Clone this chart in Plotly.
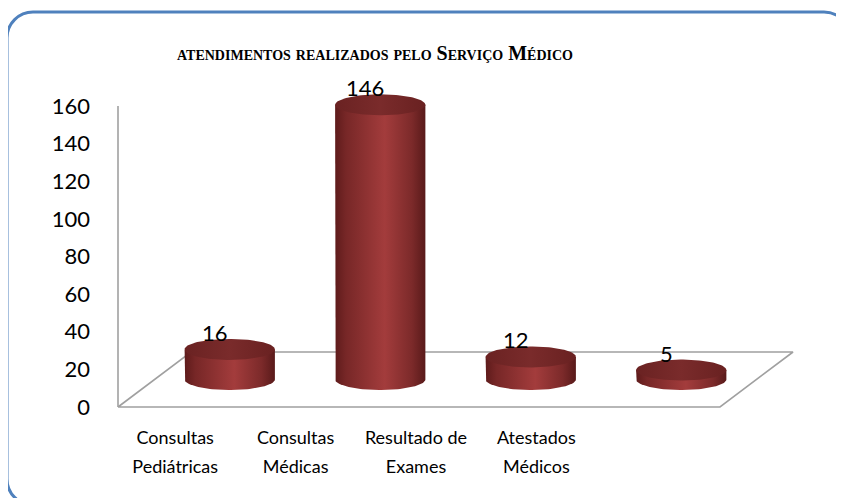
import numpy as np
import plotly.graph_objects as go

# ---- data ----
categories = ["Consultas<br>Pediátricas", "Consultas<br>Médicas",
              "Resultado de<br>Exames", "Atestados<br>Médicos"]
values = [16, 146, 12, 5]
y_ticks = [0, 20, 40, 60, 80, 100, 120, 140, 160]
title_text = "atendimentos realizados pelo Serviço Médico"

# ---- layout geometry (window pixels; page body has an 8px margin) ----
OFF = 8
WIN_W, WIN_H = 844, 498
W, H = WIN_W - OFF, WIN_H - OFF
plot_left, plot_right, plot_top, plot_bottom = 116, 800, 55, 411
ML = plot_left - OFF
MR = W - (plot_right - OFF)
MT = plot_top - OFF
MB = H - (plot_bottom - OFF)
PX_PER_X = 150.5
Y0_PX = 407
PX_PER_Y = 301 / 160

plot_w = plot_right - plot_left
plot_h = plot_bottom - plot_top
x_lo = -0.5 - 2 / PX_PER_X
x_range = [x_lo, x_lo + plot_w / PX_PER_X]
y_range = [(Y0_PX - plot_bottom) / PX_PER_Y, (Y0_PX - plot_top) / PX_PER_Y]

depth_x = 73 / PX_PER_X
depth_y = 55 / PX_PER_Y
n = len(values)
bar_a = 0.3                     # half width of cylinder (x units)
bar_b = 10.5 / PX_PER_Y          # vertical semi-axis of ellipse (y units)

body_scale = [[0, "#5e1b1b"], [0.12, "#772727"], [0.55, "#a33c3c"],
              [0.85, "#7c2a2a"], [1, "#591a1a"]]
top_scale = [[0, "#6a2222"], [0.5, "#7a2b2b"], [1, "#692121"]]

fig = go.Figure()

# floor
fx = [-0.5, n - 0.5, n - 0.5 + depth_x, -0.5 + depth_x, -0.5]
fy = [0, 0, depth_y, depth_y, 0]
fig.add_trace(go.Scatter(x=fx, y=fy, mode="lines",
                         line=dict(color="#a0a0a0", width=1.6),
                         hoverinfo="skip", showlegend=False))
# vertical axis line
fig.add_trace(go.Scatter(x=[-0.5, -0.5], y=[0, y_ticks[-1]], mode="lines",
                         line=dict(color="#a0a0a0", width=1.6),
                         hoverinfo="skip", showlegend=False))

t_bot = np.linspace(np.pi, 2 * np.pi, 60)
t_full = np.linspace(0, 2 * np.pi, 120)
for i, v in enumerate(values):
    cx = i + depth_x / 2
    base = depth_y / 2
    top = v + depth_y / 2
    bx = np.concatenate([[cx - bar_a], cx + bar_a * np.cos(t_bot), [cx + bar_a, cx - bar_a]])
    by = np.concatenate([[top], base + bar_b * np.sin(t_bot), [top, top]])
    fig.add_trace(go.Scatter(
        x=bx, y=by, mode="lines", fill="toself", line=dict(width=0),
        fillcolor="#8e3333",
        fillgradient=dict(type="horizontal", colorscale=body_scale,
                          start=cx - bar_a, stop=cx + bar_a),
        hoverinfo="skip", showlegend=False))
    ex = cx + bar_a * np.cos(t_full)
    ey = top + bar_b * np.sin(t_full)
    fig.add_trace(go.Scatter(
        x=ex, y=ey, mode="lines", fill="toself", line=dict(width=0),
        fillcolor="#722828",
        fillgradient=dict(type="horizontal", colorscale=top_scale,
                          start=cx - bar_a, stop=cx + bar_a),
        hoverinfo="skip", showlegend=False))
    fig.add_annotation(x=cx - 0.1, y=top + 9, xref="x", yref="y",
                       text=str(v), showarrow=False, yanchor="middle",
                       font=dict(family="Lato", size=22, color="#000000"))

# category label positions and text (wider line spacing via larger base font)
label_start, label_step = -0.12, 0.80
label_pos = [label_start + label_step * i for i in range(n)]
label_text = ["<br>".join(f'<span style="font-size:18px">{part}</span>'
                          for part in c.split("<br>")) for c in categories]

def px2paper(px, py):
    return (px - plot_left) / plot_w, (plot_bottom - py) / plot_h

# title
tx, ty = px2paper(374.5, 53)
fig.add_annotation(xref="paper", yref="paper", x=tx, y=ty,
                   text="<b>" + title_text + "</b>", showarrow=False,
                   xanchor="center", yanchor="middle",
                   font=dict(family="Liberation Serif", size=20,
                             color="#000000", variant="small-caps"))

# rounded border
L, T, R, B, rad = 7, 12, 850, 505, 26
k = 0.5523 * rad
def P(px, py):
    x, y = px2paper(px, py)
    return f"{x:.5f},{y:.5f}"
path = (f"M {P(L + rad, T)} L {P(R - rad, T)} "
        f"C {P(R - rad + k, T)} {P(R, T + rad - k)} {P(R, T + rad)} "
        f"L {P(R, B - rad)} "
        f"C {P(R, B - rad + k)} {P(R - rad + k, B)} {P(R - rad, B)} "
        f"L {P(L + rad, B)} "
        f"C {P(L + rad - k, B)} {P(L, B - rad + k)} {P(L, B - rad)} "
        f"L {P(L, T + rad)} "
        f"C {P(L, T + rad - k)} {P(L + rad - k, T)} {P(L + rad, T)} Z")
fig.add_shape(type="path", path=path, xref="paper", yref="paper",
              line=dict(color="#4f81bd", width=3), layer="above")

fig.update_layout(
    width=W, height=H,
    margin=dict(l=ML, r=MR, t=MT, b=MB, pad=0),
    paper_bgcolor="white", plot_bgcolor="white",
    showlegend=False,
    xaxis=dict(range=x_range, tickvals=label_pos, ticktext=label_text,
               showgrid=False, zeroline=False, showline=False, ticks="",
               tickfont=dict(family="Lato", size=22, color="#000000"),
               ticklabelstandoff=10, fixedrange=True),
    yaxis=dict(range=y_range, tickvals=y_ticks,
               showgrid=False, zeroline=False, showline=False, ticks="",
               tickfont=dict(family="Lato", size=22, color="#000000"),
               ticklabelstandoff=25, fixedrange=True),
)

fig.write_html("out.html")
